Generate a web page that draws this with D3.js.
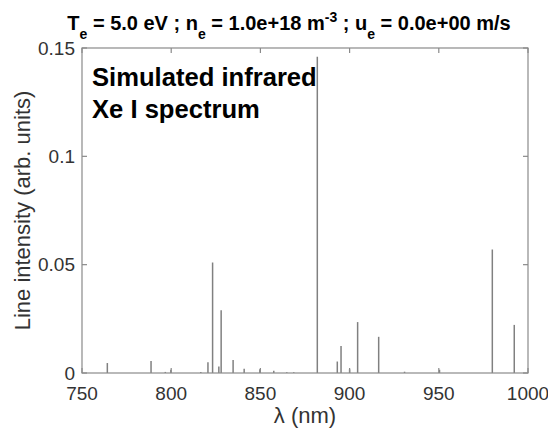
<!DOCTYPE html>
<html>
<head>
<meta charset="utf-8">
<script src="https://cdn.jsdelivr.net/npm/d3@7/dist/d3.min.js"></script>
<style>
  html, body { margin: 0; padding: 0; background: #fff; }
  svg { display: block; font-family: "Liberation Sans", Arial, Helvetica, sans-serif; }
</style>
</head>
<body>
<div id="chart"></div>
<script>
// Xe I line positions (nm) and simulated intensities (arb. units)
const wavelengths = [764.2, 788.7, 796.7, 799.8, 816.6, 820.6, 823.2, 826.7, 828.0, 834.7,
  840.9, 849.7, 857.5, 864.8, 868.7, 881.9, 893.1, 895.2, 900.0, 904.5,
  916.3, 930.8, 950.4, 980.0, 992.3];
const intensities = [0.0046, 0.0055, 0.0005, 0.0015, 0.0005, 0.005, 0.051, 0.003, 0.029, 0.006,
  0.002, 0.0017, 0.001, 0.0003, 0.0003, 0.146, 0.0053, 0.0125, 0.0017, 0.0235,
  0.0167, 0.0006, 0.0015, 0.057, 0.0222];
const xTicks = [750, 800, 850, 900, 950, 1000];
const yTicks = [0, 0.05, 0.1, 0.15];
const yTickLabels = ["0", "0.05", "0.1", "0.15"];

const W = 548, H = 431;
const margin = {top: 48, right: 20, bottom: 58, left: 82};
const AXIS = "#8a8a8a";
const TEXT = "#333";
const LINE = "#808080";
const TICK = 5;

const svg = d3.select("#chart").append("svg")
  .attr("width", W)
  .attr("height", H);

svg.append("rect").attr("width", W).attr("height", H).attr("fill", "#fff");

const x = d3.scaleLinear().domain([750, 1000]).range([margin.left, W - margin.right]);
const y = d3.scaleLinear().domain([0, 0.15]).range([H - margin.bottom, margin.top]);

const data = wavelengths.map((w, i) => ({w, v: intensities[i]}));

// spectral lines
svg.append("g").selectAll("line")
  .data(data)
  .join("line")
  .attr("x1", d => x(d.w)).attr("x2", d => x(d.w))
  .attr("y1", y(0)).attr("y2", d => y(d.v))
  .attr("stroke", LINE)
  .attr("stroke-width", 1.5);

// box + inward ticks
const x0 = x.range()[0], x1 = x.range()[1];
const y0 = y.range()[0], y1 = y.range()[1];
const frame = svg.append("g").attr("stroke", AXIS).attr("stroke-width", 1.2).attr("fill", "none");
frame.append("rect").attr("x", x0).attr("y", y1).attr("width", x1 - x0).attr("height", y0 - y1);

xTicks.forEach(t => {
  frame.append("line").attr("x1", x(t)).attr("x2", x(t)).attr("y1", y0).attr("y2", y0 - TICK);
  frame.append("line").attr("x1", x(t)).attr("x2", x(t)).attr("y1", y1).attr("y2", y1 + TICK);
});
yTicks.forEach(t => {
  frame.append("line").attr("x1", x0).attr("x2", x0 + TICK).attr("y1", y(t)).attr("y2", y(t));
  frame.append("line").attr("x1", x1).attr("x2", x1 - TICK).attr("y1", y(t)).attr("y2", y(t));
});

// tick labels
svg.append("g").selectAll("text")
  .data(xTicks)
  .join("text")
  .attr("x", d => x(d))
  .attr("y", y0 + 27)
  .attr("text-anchor", "middle")
  .attr("font-size", 19)
  .attr("fill", TEXT)
  .text(d => d);

svg.append("g").selectAll("text")
  .data(yTicks)
  .join("text")
  .attr("x", x0 - 7)
  .attr("y", d => y(d))
  .attr("dy", "0.35em")
  .attr("text-anchor", "end")
  .attr("font-size", 19)
  .attr("fill", TEXT)
  .text((d, i) => yTickLabels[i]);

// axis labels
svg.append("text")
  .attr("x", (x0 + x1) / 2)
  .attr("y", 423)
  .attr("text-anchor", "middle")
  .attr("font-size", 22)
  .attr("fill", TEXT)
  .text("\u03bb (nm)");

svg.append("text")
  .attr("transform", `translate(30,${(y0 + y1) / 2}) rotate(-90)`)
  .attr("text-anchor", "middle")
  .attr("font-size", 22)
  .attr("fill", TEXT)
  .text("Line intensity (arb. units)");

// title with sub/superscripts
const title = svg.append("text")
  .attr("x", 289)
  .attr("y", 30)
  .attr("text-anchor", "middle")
  .attr("font-size", 20)
  .attr("font-weight", "bold")
  .attr("fill", "#000");
const parts = [
  ["T", 0, 20], ["e", 9, 14], [" = 5.0 eV ; n", -9, 20], ["e", 9, 14],
  [" = 1.0e+18 m", -9, 20], ["-3", -8, 14], [" ; u", 8, 20], ["e", 9, 14],
  [" = 0.0e+00 m/s", -9, 20]
];
parts.forEach(([t, dy, fs]) => {
  title.append("tspan").attr("dy", dy).attr("font-size", fs).text(t);
});

// annotation
const note = svg.append("text")
  .attr("font-size", 25.6)
  .attr("font-weight", "bold")
  .attr("fill", "#000");
note.append("tspan").attr("x", 92).attr("y", 86).text("Simulated infrared");
note.append("tspan").attr("x", 92).attr("y", 118).text("Xe I spectrum");
</script>
</body>
</html>
